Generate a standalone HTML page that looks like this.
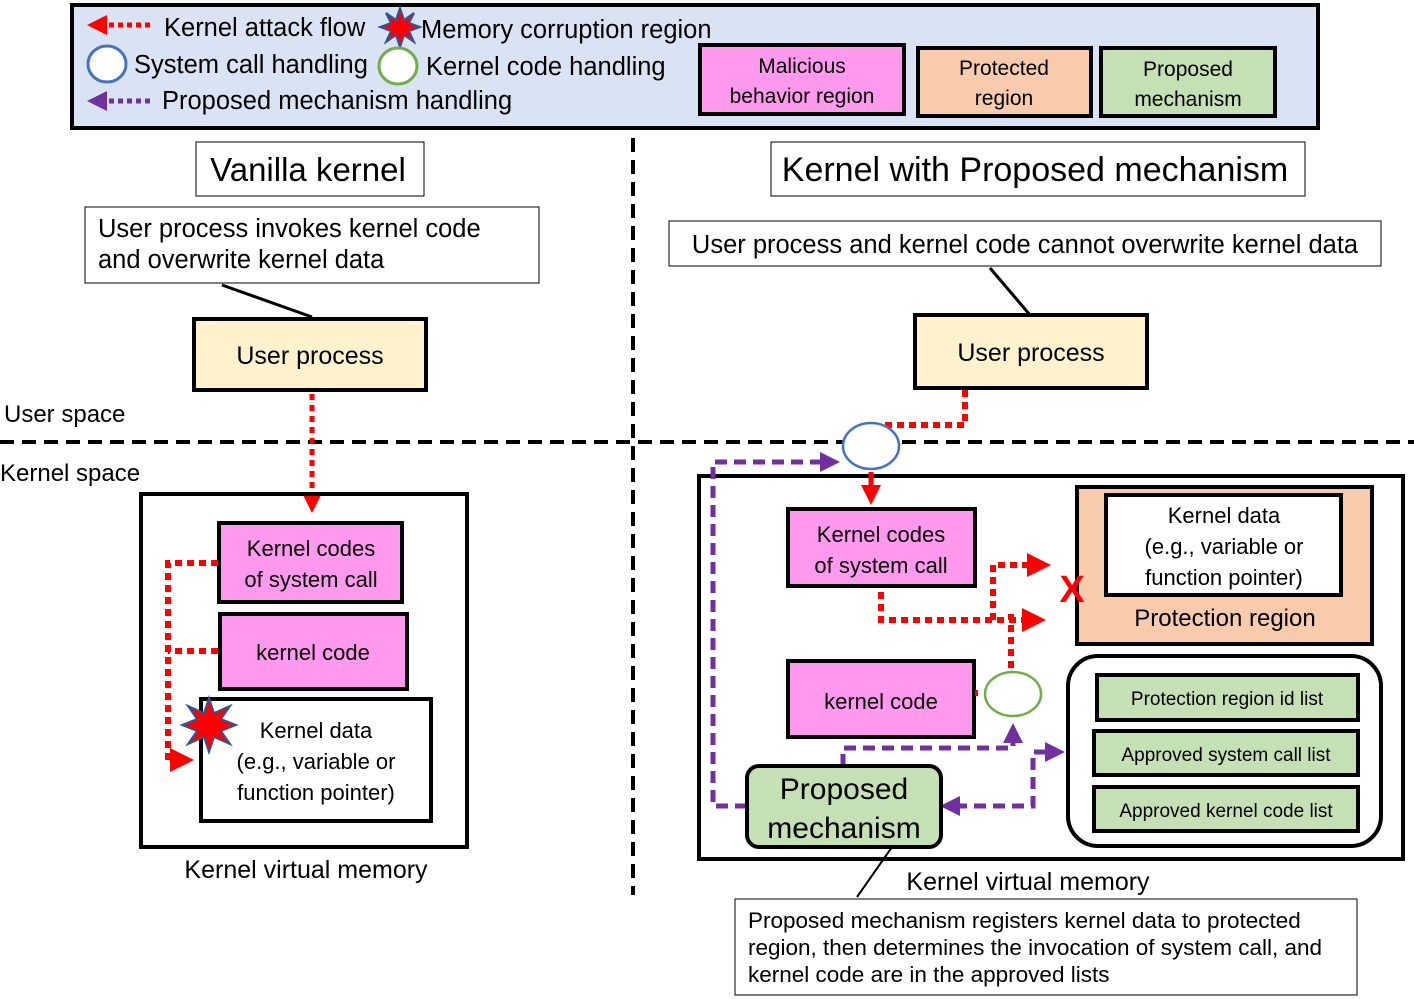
<!DOCTYPE html>
<html><head><meta charset="utf-8"><style>body{margin:0;background:#fff}svg{display:block}text{font-family:"Liberation Sans",sans-serif;fill:#000}</style></head><body>
<svg width="1414" height="999" viewBox="0 0 1414 999" xmlns="http://www.w3.org/2000/svg">
<defs>
<marker id="ra" markerWidth="4" markerHeight="4" refX="3" refY="2" orient="auto" markerUnits="strokeWidth"><path d="M0,0L4,2L0,4z" fill="#f00"/></marker>
<marker id="pa" markerWidth="4" markerHeight="4" refX="3" refY="2" orient="auto" markerUnits="strokeWidth"><path d="M0,0L4,2L0,4z" fill="#7030a0"/></marker>
</defs>
<rect x="72" y="5" width="1246" height="123" fill="#dae3f3" stroke="#000" stroke-width="4"/>
<path d="M150,25H92" stroke="#f00" stroke-width="5" stroke-dasharray="5,4" fill="none" marker-end="url(#ra)"/>
<text x="164" y="36" font-size="25.5">Kernel attack flow</text>
<polygon points="400,8 404,20 414,13 409,23 420,27 409,31 414,42 404,35 400,47 396,35 386,42 391,31 380,27 391,23 386,13 396,20" fill="#f00" stroke="#2f5597" stroke-width="2"/>
<text x="421" y="38" font-size="25.5">Memory corruption region</text>
<ellipse cx="107" cy="64" rx="19" ry="18" fill="#fff" stroke="#4472c4" stroke-width="3"/>
<text x="134" y="73" font-size="25.5">System call handling</text>
<ellipse cx="398" cy="66" rx="19" ry="18" fill="#fff" stroke="#70ad47" stroke-width="3"/>
<text x="426" y="75" font-size="25.5">Kernel code handling</text>
<path d="M150,101H92" stroke="#7030a0" stroke-width="5" stroke-dasharray="5,4" fill="none" marker-end="url(#pa)"/>
<text x="162" y="109" font-size="25.5">Proposed mechanism handling</text>
<rect x="700" y="45" width="204" height="69" fill="#ff99ee" stroke="#000" stroke-width="4"/>
<text x="802" y="73" font-size="21" text-anchor="middle">Malicious</text><text x="802" y="103" font-size="21" text-anchor="middle">behavior region</text>
<rect x="918" y="48" width="173" height="68" fill="#f8cbad" stroke="#000" stroke-width="4"/>
<text x="1004" y="75" font-size="21" text-anchor="middle">Protected</text><text x="1004" y="105" font-size="21" text-anchor="middle">region</text>
<rect x="1101" y="48" width="174" height="68" fill="#c5e0b4" stroke="#000" stroke-width="4"/>
<text x="1188" y="76" font-size="21" text-anchor="middle">Proposed</text><text x="1188" y="106" font-size="21" text-anchor="middle">mechanism</text>
<path d="M633,138V895" stroke="#000" stroke-width="4" stroke-dasharray="14,8"/>
<path d="M0,442H1414" stroke="#000" stroke-width="4" stroke-dasharray="14,8"/>
<text x="4" y="422" font-size="24">User space</text>
<text x="0" y="481" font-size="24">Kernel space</text>
<rect x="196" y="142" width="228" height="54" fill="#fff" stroke="#000" stroke-width="1"/>
<text x="308" y="181" font-size="33" text-anchor="middle">Vanilla kernel</text>
<rect x="85" y="207" width="454" height="76" fill="#fff" stroke="#000" stroke-width="1"/>
<text x="98" y="237" font-size="25.5">User process invokes kernel code</text>
<text x="98" y="268" font-size="25.5">and overwrite kernel data</text>
<path d="M222,285L312,317" stroke="#000" stroke-width="3"/>
<rect x="194" y="319" width="232" height="71" fill="#fff2cc" stroke="#000" stroke-width="4"/>
<text x="310" y="364" font-size="25" text-anchor="middle">User process</text>
<path d="M312,394V508" stroke="#f00" stroke-width="5" stroke-dasharray="6,5" fill="none" marker-end="url(#ra)"/>
<rect x="141" y="494" width="326" height="353" fill="none" stroke="#000" stroke-width="4"/>
<rect x="219" y="523" width="183" height="79" fill="#ff99ee" stroke="#000" stroke-width="4"/>
<text x="311" y="556" font-size="22" text-anchor="middle">Kernel codes</text><text x="311" y="587" font-size="22" text-anchor="middle">of system call</text>
<rect x="220" y="614" width="187" height="75" fill="#ff99ee" stroke="#000" stroke-width="4"/>
<text x="313" y="660" font-size="22" text-anchor="middle">kernel code</text>
<rect x="201" y="699" width="230" height="122" fill="#fff" stroke="#000" stroke-width="4"/>
<text x="316" y="738" font-size="22" text-anchor="middle">Kernel data</text><text x="316" y="769" font-size="22" text-anchor="middle">(e.g., variable or</text><text x="316" y="800" font-size="22" text-anchor="middle">function pointer)</text>
<path d="M218,563H168V760H188" stroke="#f00" stroke-width="6" stroke-dasharray="7,5" fill="none" marker-end="url(#ra)"/>
<path d="M218,651H168" stroke="#f00" stroke-width="6" stroke-dasharray="7,5" fill="none"/>
<polygon points="209,698 214,713 230,706 221,719 236,725 221,731 230,744 214,737 209,752 204,737 188,744 197,731 182,725 197,719 188,706 204,713" fill="#f00" stroke="#2f5597" stroke-width="2"/>
<text x="306" y="878" font-size="25" text-anchor="middle">Kernel virtual memory</text>
<rect x="771" y="142" width="534" height="54" fill="#fff" stroke="#000" stroke-width="1"/>
<text x="1035" y="181" font-size="34" text-anchor="middle">Kernel with Proposed mechanism</text>
<rect x="669" y="221" width="712" height="45" fill="#fff" stroke="#000" stroke-width="1"/>
<text x="1025" y="253" font-size="25.5" text-anchor="middle">User process and kernel code cannot overwrite kernel data</text>
<path d="M990,268L1030,315" stroke="#000" stroke-width="3"/>
<rect x="915" y="315" width="232" height="73" fill="#fff2cc" stroke="#000" stroke-width="4"/>
<text x="1031" y="361" font-size="25" text-anchor="middle">User process</text>
<path d="M965,390V425H880" stroke="#f00" stroke-width="6" stroke-dasharray="7,5" fill="none"/>
<rect x="699" y="476" width="704" height="383" fill="none" stroke="#000" stroke-width="4"/>
<ellipse cx="871" cy="446" rx="28" ry="23" fill="#fff" stroke="#4472c4" stroke-width="2.5"/>
<path d="M871,472V500" stroke="#f00" stroke-width="5" fill="none" marker-end="url(#ra)"/>
<rect x="788" y="509" width="187" height="77" fill="#ff99ee" stroke="#000" stroke-width="4"/>
<text x="881" y="542" font-size="22" text-anchor="middle">Kernel codes</text><text x="881" y="573" font-size="22" text-anchor="middle">of system call</text>
<rect x="1077" y="487" width="295" height="157" fill="#f8cbad" stroke="#000" stroke-width="4"/>
<rect x="1106" y="495" width="235" height="100" fill="#fff" stroke="#000" stroke-width="4"/>
<text x="1224" y="523" font-size="22" text-anchor="middle">Kernel data</text><text x="1224" y="554" font-size="22" text-anchor="middle">(e.g., variable or</text><text x="1224" y="585" font-size="22" text-anchor="middle">function pointer)</text>
<text x="1225" y="626" font-size="24" text-anchor="middle">Protection region</text>
<path d="M881,592V620H1040" stroke="#f00" stroke-width="6" stroke-dasharray="7,5" fill="none" marker-end="url(#ra)"/>
<path d="M993,620V565H1045" stroke="#f00" stroke-width="6" stroke-dasharray="7,5" fill="none" marker-end="url(#ra)"/>
<path d="M1011,668V614" stroke="#f00" stroke-width="6" stroke-dasharray="7,5" fill="none"/>
<text x="1072" y="602" font-size="38" font-weight="bold" text-anchor="middle" style="fill:#f00">X</text>
<rect x="788" y="661" width="186" height="76" fill="#ff99ee" stroke="#000" stroke-width="4"/>
<text x="881" y="709" font-size="22" text-anchor="middle">kernel code</text>
<path d="M975,693H978" stroke="#f00" stroke-width="6"/>
<ellipse cx="1013" cy="694" rx="28" ry="22" fill="#fff" stroke="#70ad47" stroke-width="2.5"/>
<rect x="1068" y="656" width="313" height="190" rx="30" fill="#fff" stroke="#000" stroke-width="4"/>
<rect x="1097" y="675" width="261" height="45" fill="#c5e0b4" stroke="#000" stroke-width="4"/>
<text x="1227" y="705" font-size="19" text-anchor="middle">Protection region id list</text>
<rect x="1094" y="731" width="264" height="44" fill="#c5e0b4" stroke="#000" stroke-width="4"/>
<text x="1226" y="761" font-size="19" text-anchor="middle">Approved system call list</text>
<rect x="1094" y="787" width="264" height="44" fill="#c5e0b4" stroke="#000" stroke-width="4"/>
<text x="1226" y="817" font-size="19" text-anchor="middle">Approved kernel code  list</text>
<path d="M747,806H713V462H835" stroke="#7030a0" stroke-width="5" stroke-dasharray="12,7" fill="none" marker-end="url(#pa)"/>
<path d="M843,766V748H1013V728" stroke="#7030a0" stroke-width="5" stroke-dasharray="12,7" fill="none" marker-end="url(#pa)"/>
<path d="M955,806H1033V752H1060" stroke="#7030a0" stroke-width="5" stroke-dasharray="12,7" fill="none" marker-end="url(#pa)"/>
<path d="M960,806H945" stroke="#7030a0" stroke-width="5" fill="none" marker-end="url(#pa)"/>
<rect x="747" y="766" width="194" height="81" rx="12" fill="#c5e0b4" stroke="#000" stroke-width="4"/>
<text x="844" y="799" font-size="30" text-anchor="middle">Proposed</text><text x="844" y="838" font-size="30" text-anchor="middle">mechanism</text>
<path d="M892,847L857,897" stroke="#000" stroke-width="2"/>
<text x="1028" y="890" font-size="25" text-anchor="middle">Kernel virtual memory</text>
<rect x="735" y="899" width="622" height="96" fill="#fff" stroke="#000" stroke-width="1"/>
<text x="748" y="928" font-size="22.5">Proposed mechanism registers kernel data to protected</text>
<text x="748" y="955" font-size="22.5">region, then determines the invocation of system call, and</text>
<text x="748" y="982" font-size="22.5">kernel code are in the approved lists</text>
</svg>
</body></html>
